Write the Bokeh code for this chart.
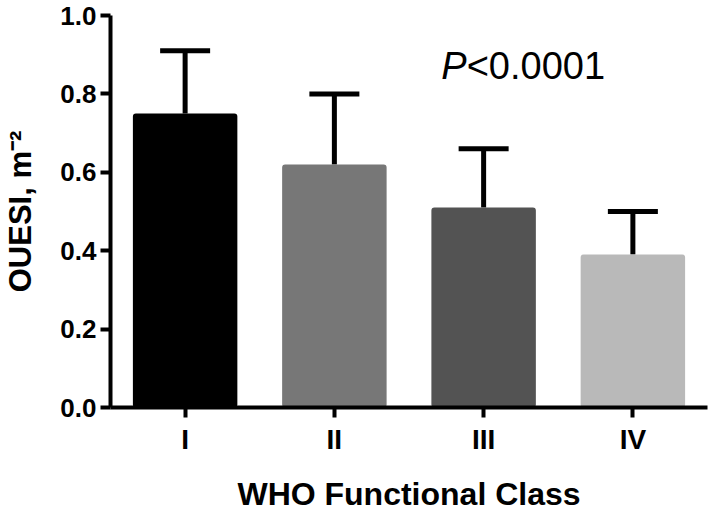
from bokeh.plotting import figure
from bokeh.models import ColumnDataSource, Whisker, TeeHead, Range1d, FactorRange
from bokeh.core.properties import value
from bokeh.embed import file_html
from bokeh.resources import INLINE

# Data
classes = ["I", "II", "III", "IV"]
means = [0.75, 0.62, 0.51, 0.39]
sds = [0.16, 0.18, 0.15, 0.11]
colors = ["#000000", "#777777", "#535353", "#b9b9b9"]
y_ticks = [0.0, 0.2, 0.4, 0.6, 0.8, 1.0]

uppers = [m + s for m, s in zip(means, sds)]
src = ColumnDataSource(dict(cls=classes, mean=means, upper=uppers, color=colors))

FONT = "Liberation Sans"

p = figure(x_range=FactorRange(*classes), y_range=Range1d(0, 1.0),
           width=709, height=514, output_backend="svg", toolbar_location=None,
           min_border_left=110, min_border_right=2, min_border_top=15, min_border_bottom=105)
p.outline_line_color = None
p.xgrid.visible = False
p.ygrid.visible = False
p.background_fill_color = "white"

p.vbar(x="cls", top="mean", bottom=0, width=0.70, source=src,
       fill_color="color", line_color=None, border_radius=3)

w = Whisker(base="cls", lower="mean", upper="upper", source=src,
            line_color="black", line_width=5,
            upper_head=TeeHead(size=50, line_width=5, line_color="black"),
            lower_head=None)
p.add_layout(w)

# P-value annotation
p.text(x=["III"], y=[0.87], text=["P"], x_offset=-17,
       text_align="right", text_baseline="alphabetic",
       text_font=value(FONT), text_font_size="38px", text_font_style="italic",
       text_color="black")
p.text(x=["III"], y=[0.87], text=["<0.0001"], x_offset=-17,
       text_align="left", text_baseline="alphabetic",
       text_font=value(FONT), text_font_size="38px", text_font_style="normal",
       text_color="black")

for ax in (p.xaxis[0], p.yaxis[0]):
    ax.axis_line_width = 4
    ax.axis_line_color = "black"
    ax.major_tick_line_width = 4
    ax.major_tick_line_color = "black"
    ax.major_tick_out = 10
    ax.major_tick_in = 0
    ax.minor_tick_line_color = None
    ax.major_label_text_font = FONT
    ax.major_label_text_font_style = "bold"
    ax.major_label_text_color = "black"
    ax.axis_label_text_font = FONT
    ax.axis_label_text_font_style = "bold"
    ax.axis_label_text_color = "black"

p.yaxis.ticker = y_ticks
p.yaxis.major_label_overrides = {t: f"{t:.1f}" for t in y_ticks}
p.yaxis.axis_label = "OUESI, m\u207b\u00b2"
p.yaxis.major_label_text_font_size = "26px"
p.yaxis.axis_label_text_font_size = "31px"
p.yaxis.major_label_standoff = 4
p.yaxis.axis_label_standoff = 19

p.xaxis.axis_label = "WHO Functional Class"
p.xaxis.major_label_text_font_size = "28px"
p.xaxis.axis_label_text_font_size = "32px"
p.xaxis.major_label_standoff = 6
p.xaxis.axis_label_standoff = 18

open("out.html", "w").write(file_html(p, INLINE))
